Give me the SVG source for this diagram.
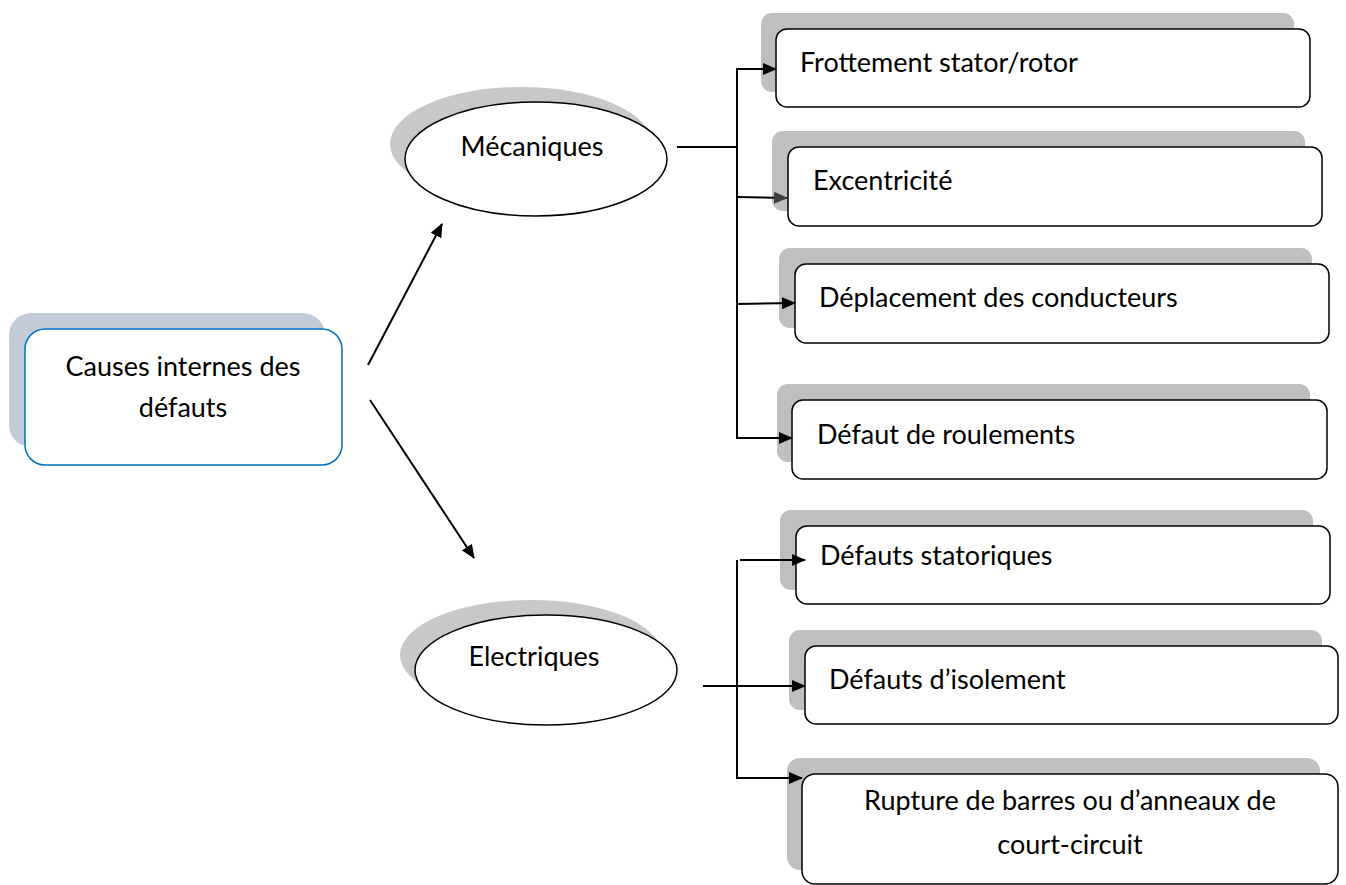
<svg xmlns="http://www.w3.org/2000/svg" width="1346" height="885" viewBox="0 0 1346 885">
<style>
text{font-family:Lato,"Open Sans","Liberation Sans",sans-serif;font-size:27px;fill:#000}
.box{fill:#fff;stroke:#000;stroke-width:1.5}
.sh{fill:#bfbfbf}
.con{fill:none;stroke:#000;stroke-width:2}
</style>
<defs>
<marker id="ah" markerWidth="14" markerHeight="12" refX="13" refY="6" orient="auto" markerUnits="userSpaceOnUse">
<path d="M0,0 L14,6 L0,12 Z" fill="#000"/>
</marker>
<marker id="ahg" markerWidth="14" markerHeight="12" refX="13" refY="6" orient="auto" markerUnits="userSpaceOnUse">
<path d="M0,0 L14,6 L0,12 Z" fill="#404040"/>
</marker>
</defs>
<rect width="1346" height="885" fill="#fff"/>
<g id="root">
<rect x="9" y="313" width="316" height="134" rx="22" fill="#c3cbd8"/>
<rect x="25" y="329" width="317" height="136" rx="20" fill="#fff" stroke="#0070c0" stroke-width="1.5"/>
<text x="183" y="376" text-anchor="middle">Causes internes des</text>
<text x="183" y="417" text-anchor="middle">défauts</text>
</g>
<g id="mecaniques">
<ellipse cx="521" cy="144" rx="131" ry="57" fill="#c8c8c8"/>
<ellipse cx="536" cy="159" rx="131" ry="57" fill="#fff" stroke="#000" stroke-width="1.5"/>
<text x="532" y="156" text-anchor="middle">Mécaniques</text>
</g>
<g id="electriques">
<ellipse cx="531" cy="655" rx="131" ry="55" fill="#c8c8c8"/>
<ellipse cx="546" cy="670" rx="131" ry="55" fill="#fff" stroke="#000" stroke-width="1.5"/>
<text x="534" y="666" text-anchor="middle">Electriques</text>
</g>
<g id="frottement">
<rect class="sh" x="761" y="13" width="533" height="79" rx="11"/>
<rect class="box" x="776" y="29" width="534" height="78" rx="11"/>
<text x="800" y="72">Frottement stator/rotor</text>
</g>
<g id="excentricite">
<rect class="sh" x="772" y="131" width="533" height="80" rx="11"/>
<rect class="box" x="788" y="147" width="534" height="79" rx="11"/>
<text x="813" y="190">Excentricité</text>
</g>
<g id="deplacement">
<rect class="sh" x="779" y="248" width="533" height="80" rx="11"/>
<rect class="box" x="795" y="264" width="534" height="79" rx="11"/>
<text x="819" y="307">Déplacement des conducteurs</text>
</g>
<g id="roulements">
<rect class="sh" x="777" y="384" width="533" height="78" rx="11"/>
<rect class="box" x="792" y="400" width="535" height="79" rx="11"/>
<text x="817" y="444">Défaut de roulements</text>
</g>
<g id="statoriques">
<rect class="sh" x="780" y="510" width="533" height="80" rx="11"/>
<rect class="box" x="796" y="526" width="534" height="78" rx="11"/>
<text x="820" y="565">Défauts statoriques</text>
</g>
<g id="isolement">
<rect class="sh" x="789" y="630" width="533" height="80" rx="11"/>
<rect class="box" x="805" y="646" width="533" height="78" rx="11"/>
<text x="829" y="689">Défauts d’isolement</text>
</g>
<g id="rupture">
<rect class="sh" x="787" y="758" width="533" height="112" rx="13"/>
<rect class="box" x="802" y="774" width="536" height="110" rx="13"/>
<text x="1070" y="810" text-anchor="middle">Rupture de barres ou d’anneaux de</text>
<text x="1070" y="854" text-anchor="middle">court-circuit</text>
</g>
<g id="connectors">
<line class="con" x1="368" y1="365" x2="442" y2="224" marker-end="url(#ah)"/>
<line class="con" x1="370" y1="400" x2="474" y2="558" marker-end="url(#ah)"/>
<line class="con" x1="677" y1="147" x2="737" y2="147"/>
<line class="con" x1="737" y1="68" x2="737" y2="439"/>
<polyline class="con" points="737,69 776,69" marker-end="url(#ah)"/>
<polyline class="con" points="737,197 787,198" marker-end="url(#ahg)"/>
<polyline class="con" points="737,304 795,303" marker-end="url(#ah)"/>
<polyline class="con" points="737,438 792,438" marker-end="url(#ah)"/>
<line class="con" x1="737" y1="560" x2="737" y2="779"/>
<polyline class="con" points="740,560 805,560" marker-end="url(#ah)"/>
<polyline class="con" points="703,686 805,686" marker-end="url(#ah)"/>
<polyline class="con" points="737,778 802,778" marker-end="url(#ah)"/>
</g>
</svg>
